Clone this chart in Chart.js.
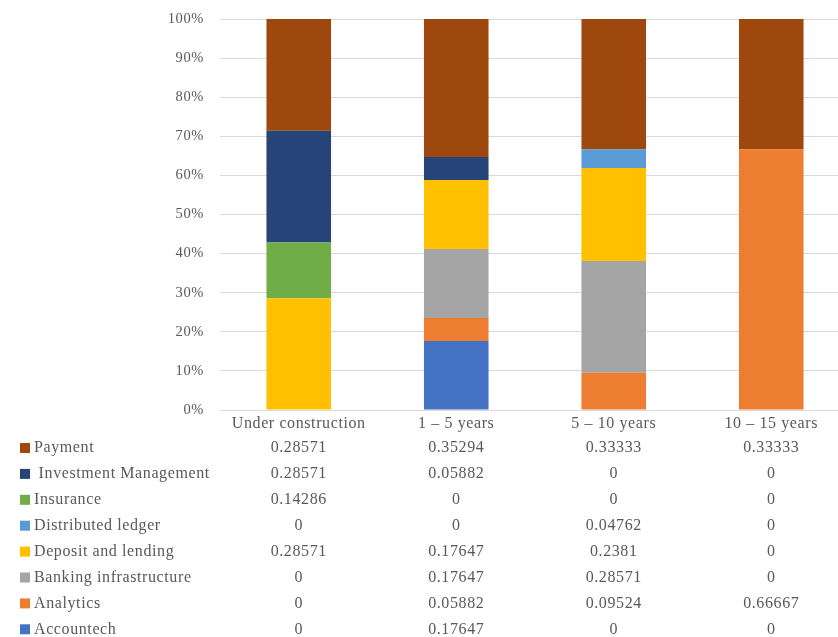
<!DOCTYPE html>
<html>
<head>
<meta charset="utf-8">
<script src="https://cdn.jsdelivr.net/npm/chart.js@4/dist/chart.umd.min.js"></script>
<style>
  html, body { margin: 0; padding: 0; background: #ffffff; overflow: hidden; }
  #wrap { width: 838px; height: 637px; overflow: hidden; position: relative; }
  canvas { display: block; }
</style>
</head>
<body>
<div id="wrap"><canvas id="c" width="850" height="637"></canvas></div>
<script>
const categories = ["Under construction", "1 \u2013 5 years", "5 \u2013 10 years", "10 \u2013 15 years"];
const seriesNames = ["Accountech", "Analytics", "Banking infrastructure", "Deposit and lending", "Distributed ledger", "Insurance", " Investment Management", "Payment"];
const accountech = [0, 0.17647, 0, 0];
const analytics = [0, 0.05882, 0.09524, 0.66667];
const bankingInfrastructure = [0, 0.17647, 0.28571, 0];
const depositAndLending = [0.28571, 0.17647, 0.2381, 0];
const distributedLedger = [0, 0, 0.04762, 0];
const insurance = [0.14286, 0, 0, 0];
const investmentManagement = [0.28571, 0.05882, 0, 0];
const payment = [0.28571, 0.35294, 0.33333, 0.33333];
const yTickLabels = ["0%", "10%", "20%", "30%", "40%", "50%", "60%", "70%", "80%", "90%", "100%"];

const seriesValues = [accountech, analytics, bankingInfrastructure, depositAndLending, distributedLedger, insurance, investmentManagement, payment];
const colors = ["#4472C4", "#ED7D31", "#A5A5A5", "#FFC000", "#5B9BD5", "#70AD47", "#264478", "#9E480E"];

const FONT = "'Liberation Serif', 'DejaVu Serif', serif";
const TEXT = "#595959";

const totals = categories.map((_, i) => seriesValues.reduce((s, arr) => s + arr[i], 0));
const datasets = seriesNames.map((name, k) => ({
  label: name,
  data: seriesValues[k].map((v, i) => totals[i] ? v / totals[i] * 100 : 0),
  backgroundColor: colors[k],
  borderWidth: 0,
  categoryPercentage: 1.0,
  barPercentage: 0.41
}));

const spacingPlugin = {
  id: 'spacing',
  beforeDraw(chart) { chart.ctx.letterSpacing = '0.6px'; }
};

const tablePlugin = {
  id: 'dataTable',
  afterDraw(chart) {
    const ctx = chart.ctx;
    const xs = chart.scales.x;
    ctx.save();
    ctx.letterSpacing = '0.6px';
    ctx.font = "16px " + FONT;
    ctx.textBaseline = "middle";
    const order = seriesNames.map((_, k) => k).reverse();
    order.forEach((k, r) => {
      const y = 448 + r * 25.9;
      ctx.fillStyle = colors[k];
      ctx.fillRect(20, y - 5, 10, 10);
      ctx.fillStyle = TEXT;
      ctx.textAlign = "left";
      ctx.fillText(seriesNames[k], 34, y);
      ctx.textAlign = "center";
      categories.forEach((c, i) => {
        ctx.fillText(String(seriesValues[k][i]), xs.getPixelForValue(i), y);
      });
    });
    ctx.restore();
  }
};

new Chart(document.getElementById('c'), {
  type: 'bar',
  data: { labels: categories, datasets },
  options: {
    responsive: false,
    animation: false,
    devicePixelRatio: 1,
    layout: { padding: { top: 19, right: 0, bottom: 0, left: 0 } },
    plugins: { legend: { display: false }, tooltip: { enabled: false } },
    scales: {
      x: {
        stacked: true,
        grid: { display: false, drawTicks: false },
        border: { display: true, color: "#D9D9D9", width: 1 },
        ticks: { color: TEXT, font: { family: FONT, size: 16 }, padding: 4, maxRotation: 0 },
        afterFit(scale) { scale.height = 227; scale.paddingLeft = 0; scale.paddingRight = 0; }
      },
      y: {
        stacked: true,
        min: 0, max: 100,
        grid: { color: "#D9D9D9", drawTicks: false },
        border: { display: false },
        ticks: {
          stepSize: 10,
          color: TEXT,
          font: { family: FONT, size: 14.5 },
          padding: 16,
          callback: (v) => yTickLabels[Math.round(v / 10)]
        },
        afterFit(scale) { scale.width = 220; scale.paddingTop = 0; scale.paddingBottom = 0; }
      }
    }
  },
  plugins: [spacingPlugin, tablePlugin]
});
</script>
</body>
</html>
